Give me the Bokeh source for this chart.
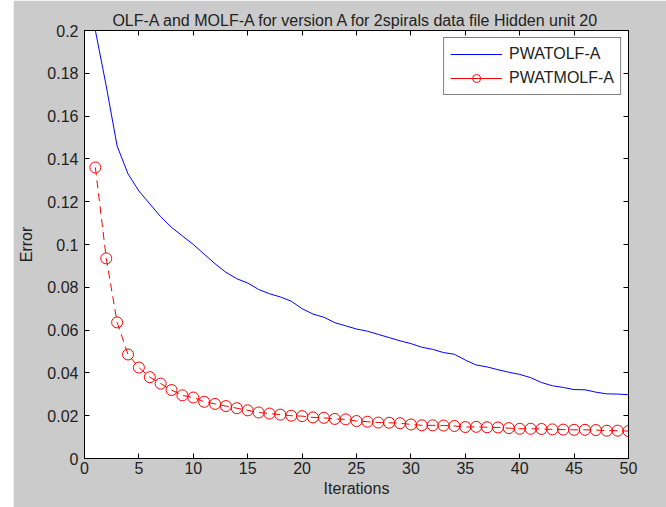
from bokeh.plotting import figure
from bokeh.models import (Range1d, FixedTicker, LinearAxis, NumeralTickFormatter,
                          CustomJSTickFormatter, Legend, LegendItem, Spacer)
from bokeh.layouts import row
from bokeh.embed import file_html
from bokeh.resources import INLINE

iterations = list(range(1, 51))
pwatolf_a = [0.200, 0.174, 0.146, 0.133, 0.125, 0.119, 0.113, 0.108, 0.104, 0.100,
             0.0955, 0.091, 0.087, 0.084, 0.082, 0.079, 0.077, 0.0755, 0.0735, 0.070,
             0.0675, 0.066, 0.0635, 0.062, 0.0605, 0.0595, 0.058, 0.0565, 0.055, 0.0537,
             0.052, 0.051, 0.0495, 0.0487, 0.046, 0.0437, 0.0428, 0.0415, 0.0403, 0.0393,
             0.0378, 0.0355, 0.034, 0.0332, 0.0322, 0.0321, 0.031, 0.0302, 0.0301, 0.0298]
pwatmolf_a = [0.136, 0.0935, 0.0636, 0.0486, 0.0425, 0.038, 0.035, 0.032, 0.0295, 0.0285,
              0.0265, 0.0255, 0.0245, 0.0235, 0.0225, 0.0215, 0.021, 0.0205, 0.020, 0.0198,
              0.0192, 0.019, 0.0185, 0.0183, 0.0175, 0.0172, 0.0168, 0.0167, 0.0165, 0.0159,
              0.0155, 0.0155, 0.0154, 0.0152, 0.0147, 0.0148, 0.0146, 0.0145, 0.0142, 0.0139,
              0.0139, 0.0138, 0.0136, 0.0135, 0.0134, 0.0134, 0.0133, 0.013, 0.013, 0.0128]
x_ticks = [0, 5, 10, 15, 20, 25, 30, 35, 40, 45, 50]
y_ticks = [0, 0.02, 0.04, 0.06, 0.08, 0.1, 0.12, 0.14, 0.16, 0.18, 0.2]

FONT = "Liberation Sans"
TXT = "#222222"
GRAY = "#cbcbcb"
FS = "16px"

p = figure(width=653, height=507, output_backend="svg", toolbar_location=None,
           x_range=Range1d(0, 50), y_range=Range1d(0, 0.2),
           min_border_left=71, min_border_right=38, min_border_top=30, min_border_bottom=49,
           background_fill_color="white", border_fill_color=GRAY,
           title="OLF-A and MOLF-A for version A for 2spirals data file Hidden unit 20")
p.title.align = "center"
p.title.text_font = FONT
p.title.text_font_size = FS
p.title.text_font_style = "normal"
p.title.text_color = TXT
p.title.standoff = 3
p.grid.visible = False
p.outline_line_color = "black"
p.outline_line_width = 1
p.outline_line_alpha = 1

for ax in (p.xaxis[0], p.yaxis[0]):
    ax.major_tick_in = 5
    ax.major_tick_out = 0
    ax.minor_tick_in = 0
    ax.minor_tick_out = 0
    ax.axis_line_color = "black"
    ax.major_tick_line_color = "black"
    ax.major_label_text_font = FONT
    ax.major_label_text_font_size = FS
    ax.major_label_text_color = TXT
    ax.axis_label_text_font = FONT
    ax.axis_label_text_font_size = FS
    ax.axis_label_text_font_style = "normal"
    ax.axis_label_text_color = TXT

p.xaxis[0].ticker = FixedTicker(ticks=x_ticks)
p.yaxis[0].ticker = FixedTicker(ticks=y_ticks)
p.yaxis[0].formatter = NumeralTickFormatter(format="0.[00]")
p.xaxis[0].axis_label = "Iterations"
p.yaxis[0].axis_label = "Error"
p.xaxis[0].major_label_standoff = 3
p.xaxis[0].axis_label_standoff = 3
p.yaxis[0].major_label_standoff = 6
p.yaxis[0].axis_label_standoff = 9

blank = CustomJSTickFormatter(code="return '';")
for loc, ticks in (("above", x_ticks), ("right", y_ticks)):
    a = LinearAxis(ticker=FixedTicker(ticks=ticks), formatter=blank,
                   major_tick_in=5, major_tick_out=0,
                   minor_tick_in=0, minor_tick_out=0, major_label_text_font_size="0px",
                   major_label_standoff=0, axis_line_color="black",
                   major_tick_line_color="black")
    p.add_layout(a, loc)

blue = p.line(iterations, pwatolf_a, line_color="#0000ff", line_width=1)
p.line(iterations, pwatmolf_a, line_color="#ff0000", line_width=1, line_dash="8 5")
red_pts = p.scatter(iterations, pwatmolf_a, marker="circle", size=11,
                    line_color="#ff0000", line_width=1, fill_color=None)
red_leg_line = p.line([float("nan")], [float("nan")], line_color="#ff0000", line_width=1)

legend = Legend(items=[LegendItem(label="PWATOLF-A", renderers=[blue]),
                       LegendItem(label="PWATMOLF-A", renderers=[red_leg_line, red_pts])],
                location="top_right", margin=7, padding=6, spacing=4,
                glyph_width=52, glyph_height=20, label_height=20, label_standoff=7,
                label_text_font=FONT, label_text_font_size=FS, label_text_color=TXT,
                border_line_color="black", border_line_width=1, background_fill_color="white",
                background_fill_alpha=1)
p.add_layout(legend, "center")

layout = row(Spacer(width=13, height=507), p, spacing=0)
open("out.html", "w").write(file_html(layout, INLINE))
